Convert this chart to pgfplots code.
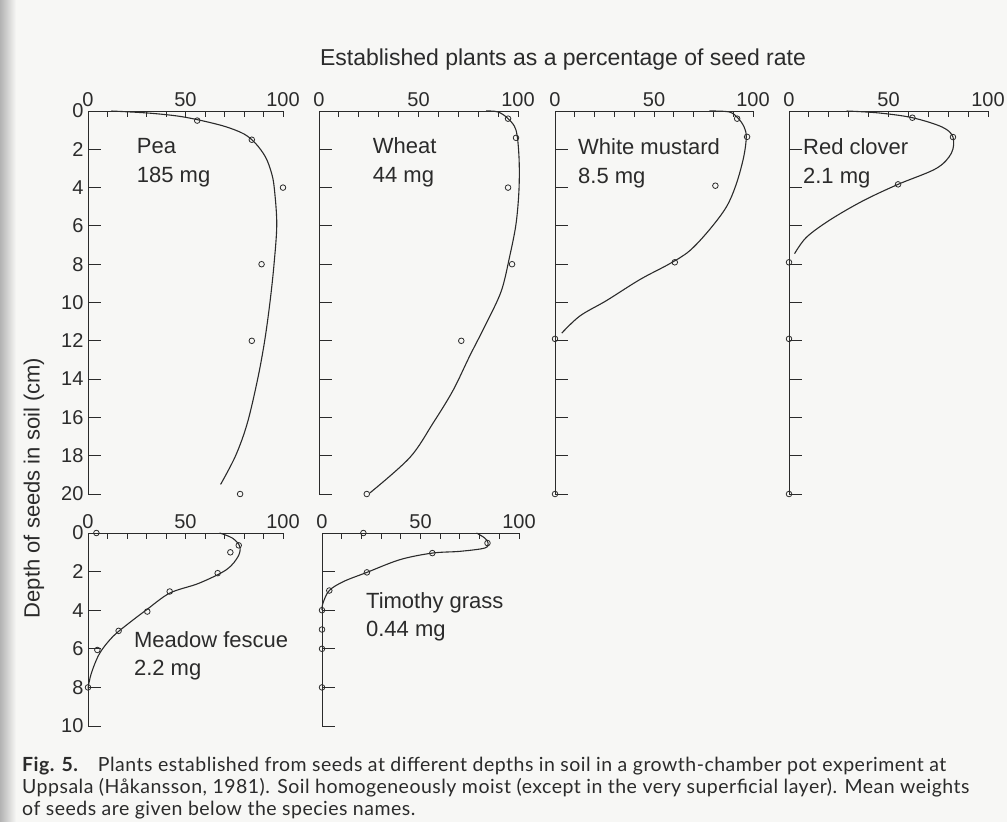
\documentclass[border=0pt]{standalone}
\usepackage{pgfplots}
\pgfplotsset{compat=1.18}
\usepackage{fontspec}
\setmainfont{Liberation Sans}
\newfontfamily\capfont[LetterSpace=2.5]{Lato}
\definecolor{ink}{HTML}{2B2B2B}
\definecolor{paper}{HTML}{F7F7F5}

\pgfplotsset{
  panel/.style={
    scale only axis,
    anchor=north west,
    clip=false,
    xmin=0, xmax=100,
    ymin=0,
    y dir=reverse,
    axis x line*=top,
    axis y line*=left,
    axis line style={ink, line width=1pt},
    xtick={0,50,100},
    minor x tick num=4,
    tick align=inside,
    major tick length=13pt,
    minor tick length=6pt,
    xtick style={ink, line width=0.9pt, /pgfplots/major tick length=6pt},
    ytick style={ink, line width=0.9pt},
    minor x tick style={ink, line width=0.9pt},
    /pgf/number format/assume math mode=true,
    tick label style={font=\fontsize{20}{24}\selectfont, text=ink},
    xticklabel style={yshift=1pt},
    yticklabel style={xshift=-1pt},
  },
  pts/.style={ink, only marks, mark=o, mark size=2.8pt, mark options={line width=0.8pt, fill=white}},
  crv/.style={ink, line width=1.1pt, smooth, tension=0.55, no marks},
}
\tikzset{lab/.style={anchor=north west, align=left, inner sep=0pt, text=ink, font=\fontsize{22}{29}\selectfont}}

\begin{document}
\begin{tikzpicture}[x=1pt,y=1pt]
\useasboundingbox[fill=paper] (0pt,0pt) rectangle (1007pt,-822pt);
\shade[left color=black!30, right color=paper] (0pt,0pt) rectangle (16pt,-822pt);

% Title
\node[text=ink, font=\fontsize{23}{28}\selectfont] at (563pt,-60pt) {Established plants as a percentage of seed rate};
% Y label
\node[rotate=90, text=ink, font=\fontsize{22}{26}\selectfont] at (34pt,-488pt) {Depth of seeds in soil (cm)};

% ---------- Pea ----------
\begin{axis}[panel, at={(88pt,-111pt)}, width=195pt, height=383pt, ymax=20,
  ytick={0,2,...,20}]
\addplot[crv] coordinates {(12,0) (30,0.1) (45,0.25) (56,0.45) (70,0.8) (80,1.2) (86,1.7) (91,2.4) (94,3.2) (95.5,4) (96.8,5.9) (95.4,8) (93.3,10) (90.6,12) (87,14) (81.7,16.3) (75.7,18) (68,19.5)};
\addplot[pts] coordinates {(56,0.5) (84,1.5) (100,4) (89,8) (84,12) (78,20)};
\node[lab] at (axis cs:25,1.42) {Pea\\185 mg};
\end{axis}

% ---------- Wheat ----------
\begin{axis}[panel, at={(319pt,-111pt)}, width=199pt, height=383pt, ymax=20,
  ytick={0,2,...,20}, yticklabels={}]
\addplot[crv] coordinates {(84,0) (90,0.05) (95,0.4) (99,1) (100.5,2.4) (100.5,4.1) (99,5.9) (95.8,7.6) (91.6,9.4) (84,11.1) (75.7,12.8) (67.3,14.6) (57.3,16.3) (45.6,18.1) (25.5,19.95)};
\addplot[pts] coordinates {(95,0.4) (99,1.4) (95,4) (97,8) (71.5,12) (24,20)};
\node[lab] at (axis cs:27,1.35) {Wheat\\44 mg};
\end{axis}

% ---------- White mustard ----------
\begin{axis}[panel, at={(555pt,-111pt)}, width=198pt, height=383pt, ymax=20,
  ytick={0,2,...,20}, yticklabels={}]
\addplot[crv] coordinates {(78,0) (88,0.05) (92.4,0.37) (95.5,0.83) (96.6,1.36) (95.3,2.4) (91.6,3.8) (86.6,5.0) (78,6.2) (68,7.3) (58,7.97) (42.9,8.8) (26,9.9) (12.6,10.7) (3.4,11.6)};
\addplot[pts] coordinates {(92,0.4) (97,1.35) (81,3.9) (60.5,7.9) (0,11.9) (0,20)};
\node[lab] at (axis cs:11.6,1.42) {White mustard\\8.5 mg};
\end{axis}

% ---------- Red clover ----------
\begin{axis}[panel, at={(789pt,-111pt)}, width=199pt, height=383pt, ymax=20,
  ytick={0,2,...,20}, yticklabels={}]
\addplot[crv] coordinates {(29,0) (45,0.1) (62,0.35) (77,0.84) (82.4,1.36) (81.6,2.2) (74,3.0) (54.8,3.83) (37,4.7) (20.4,5.7) (8.7,6.6) (2.8,7.45)};
\addplot[pts] coordinates {(62,0.35) (82.4,1.36) (54.8,3.83) (0,7.9) (0,11.9) (0,20)};
\node[lab] at (axis cs:7,1.42) {Red clover\\2.1 mg};
\end{axis}

% ---------- Meadow fescue ----------
\begin{axis}[panel, at={(88pt,-533pt)}, width=195pt, height=193pt, ymax=10,
  ytick={0,2,...,10}]
\addplot[crv] coordinates {(67.5,0) (74,0.26) (77.8,0.69) (77,1.21) (71,1.9) (57,2.6) (42,3.11) (30,3.98) (21,4.67) (12.8,5.36) (6,6.23) (1.7,7.27) (0,8.05)};
\addplot[pts] coordinates {(4.3,0) (77.3,0.64) (73,1.0) (66.5,2.08) (41.9,3.03) (30.4,4.07) (15.7,5.07) (4.8,6.06) (0,8)};
\node[lab, font=\fontsize{22}{28}\selectfont] at (axis cs:23.5,5.12) {Meadow fescue\\2.2 mg};
\end{axis}

% ---------- Timothy grass ----------
\begin{axis}[panel, at={(322pt,-533pt)}, width=197pt, height=193pt, ymax=10,
  ytick={0,2,...,10}, yticklabels={}]
\addplot[crv] coordinates {(78.4,0) (82.6,0.26) (84.3,0.52) (82.6,0.78) (70,0.95) (56,1.04) (39.6,1.38) (22.8,2.04) (11,2.51) (3.7,2.98) (0.5,3.63) (0,4)};
\addplot[pts] coordinates {(21,0) (84,0.52) (56,1.04) (22.8,2.04) (3.7,2.98) (0,4) (0,5) (0,6) (0,8)};
\node[lab, font=\fontsize{22}{28}\selectfont] at (axis cs:22.3,3.1) {Timothy grass\\0.44 mg};
\end{axis}

% Caption
\node[anchor=north west, align=left, inner sep=0pt, text=ink,
  font=\capfont\fontsize{19.5}{22}\selectfont] at (22pt,-757pt)
  {\textbf{Fig. 5.}\hspace{1.0em}Plants established from seeds at different depths in soil in a growth-chamber pot experiment at\\
   Uppsala (Håkansson, 1981). Soil homogeneously moist (except in the very superficial layer). Mean weights\\
   of seeds are given below the species names.};
\end{tikzpicture}
\end{document}
